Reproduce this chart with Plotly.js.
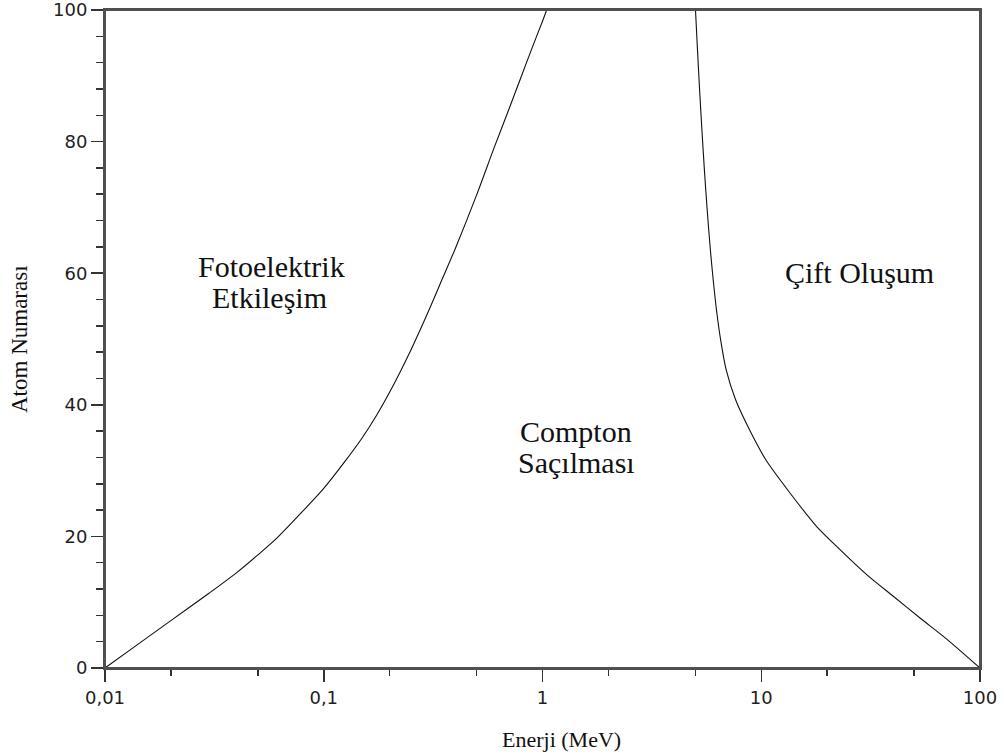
<!DOCTYPE html>
<html>
<head>
<meta charset="utf-8">
<script src="https://cdn.plot.ly/plotly-3.0.1.min.js"></script>
<style>html,body{margin:0;padding:0;background:#fff;}#chart{width:1004px;height:756px;}</style>
</head>
<body>
<div id="chart"></div>
<script>
// Boundary: photoelectric / Compton (energy MeV, atomic number)
const photoE = [0.01, 0.01347, 0.02, 0.03, 0.04, 0.05, 0.06, 0.08, 0.1, 0.125, 0.15, 0.175, 0.2, 0.25, 0.3, 0.35, 0.4, 0.5, 0.6, 0.7, 0.8, 0.9, 1.0, 1.045];
const photoZ = [0, 3.1, 7.2, 11.4, 14.5, 17.2, 19.5, 23.8, 27.3, 31.4, 35.0, 38.5, 41.9, 48.3, 54.1, 59.3, 63.8, 71.9, 79.0, 84.8, 89.9, 94.4, 98.3, 100];
// Boundary: Compton / pair production
const pairE = [5.005, 5.112, 5.226, 5.354, 5.497, 5.661, 5.855, 6.030, 6.243, 6.519, 6.915, 7.627, 8.838, 10.51, 13.53, 17.93, 22.91, 30.34, 40.15, 53.19, 70.43, 100];
const pairZ = [100, 93.9, 87.85, 81.8, 75.7, 69.6, 63.5, 59.0, 54.4, 49.9, 45.3, 40.8, 36.2, 31.6, 26.6, 21.5, 18.0, 14.2, 10.9, 7.6, 4.4, 0];

const xTickVals = [0.01, 0.1, 1, 10, 100];
const xTickText = ["0,01", "0,1", "1", "10", "100"];
const xMinorVals = [0.02, 0.05, 0.2, 0.5, 2, 5, 20, 50];
const yTickVals = [0, 20, 40, 60, 80, 100];
const yTickText = ["0", "20", "40", "60", "80", "100"];

const regionLines = ["Fotoelektrik", "Etkileşim", "Compton", "Saçılması", "Çift Oluşum"];
const xTitle = "Enerji (MeV)";
const yTitle = "Atom Numarası";

const lineStyle = {color: '#111', width: 1.1, shape: 'spline', smoothing: 0.8};
const traces = [
  {x: photoE, y: photoZ, mode: 'lines', line: lineStyle, hoverinfo: 'skip'},
  {x: pairE, y: pairZ, mode: 'lines', line: lineStyle, hoverinfo: 'skip'}
];

const serif = 'Liberation Serif, Times New Roman, serif';
const tickFont = {family: 'DejaVu Sans, sans-serif', size: 18, color: '#1e1e1e'};
const axisCommon = {
  showline: true, mirror: true, linecolor: '#505050', linewidth: 2,
  ticks: 'outside', ticklen: 12, tickwidth: 1.5, tickcolor: '#333',
  showgrid: false, zeroline: false, tickfont: tickFont, fixedrange: true,
  ticklabeloverflow: 'allow'
};

const regionPos = [
  {x: -1.239, y: 61.0},
  {x: -1.246, y: 56.3},
  {x: 0.152, y: 35.9},
  {x: 0.155, y: 31.2},
  {x: 1.447, y: 60.1}
];
const annotations = regionLines.map((t, i) => ({
  text: t, x: regionPos[i].x, y: regionPos[i].y, xref: 'x', yref: 'y',
  showarrow: false, xanchor: 'center', yanchor: 'middle',
  font: {family: serif, size: 30, color: '#111'}
}));
annotations.push({
  text: xTitle, xref: 'paper', yref: 'paper', x: (561 - 105) / 875, y: (668 - 740) / 658,
  showarrow: false, xanchor: 'center', yanchor: 'middle',
  font: {family: serif, size: 22, color: '#111'}
});
annotations.push({
  text: yTitle, xref: 'paper', yref: 'paper', x: (19 - 105) / 875, y: 0.5,
  showarrow: false, xanchor: 'center', yanchor: 'middle', textangle: -90,
  font: {family: serif, size: 23, color: '#111'}
});

const layout = {
  width: 1004, height: 756,
  margin: {l: 105, r: 24, t: 10, b: 88},
  paper_bgcolor: '#fff', plot_bgcolor: '#fff',
  showlegend: false,
  separators: ',.',
  xaxis: Object.assign({}, axisCommon, {
    type: 'log', range: [-2, 2], tickmode: 'array', tickvals: xTickVals, ticktext: xTickText,
    minor: {tickmode: 'array', tickvals: xMinorVals, ticks: 'outside', ticklen: 6, tickwidth: 1.5, tickcolor: '#333', showgrid: false}
  }),
  yaxis: Object.assign({}, axisCommon, {
    range: [0, 100], tickmode: 'array', tickvals: yTickVals, ticktext: yTickText,
    minor: {dtick: 4, ticks: 'outside', ticklen: 7, tickwidth: 1.5, tickcolor: '#333', showgrid: false}
  }),
  shapes: [{type: 'rect', xref: 'paper', yref: 'paper', x0: 0, x1: 1, y0: 0, y1: 1,
            line: {color: '#505050', width: 2}, layer: 'above'}],
  annotations: annotations
};

Plotly.newPlot('chart', traces, layout, {staticPlot: true, displayModeBar: false});
</script>
</body>
</html>
